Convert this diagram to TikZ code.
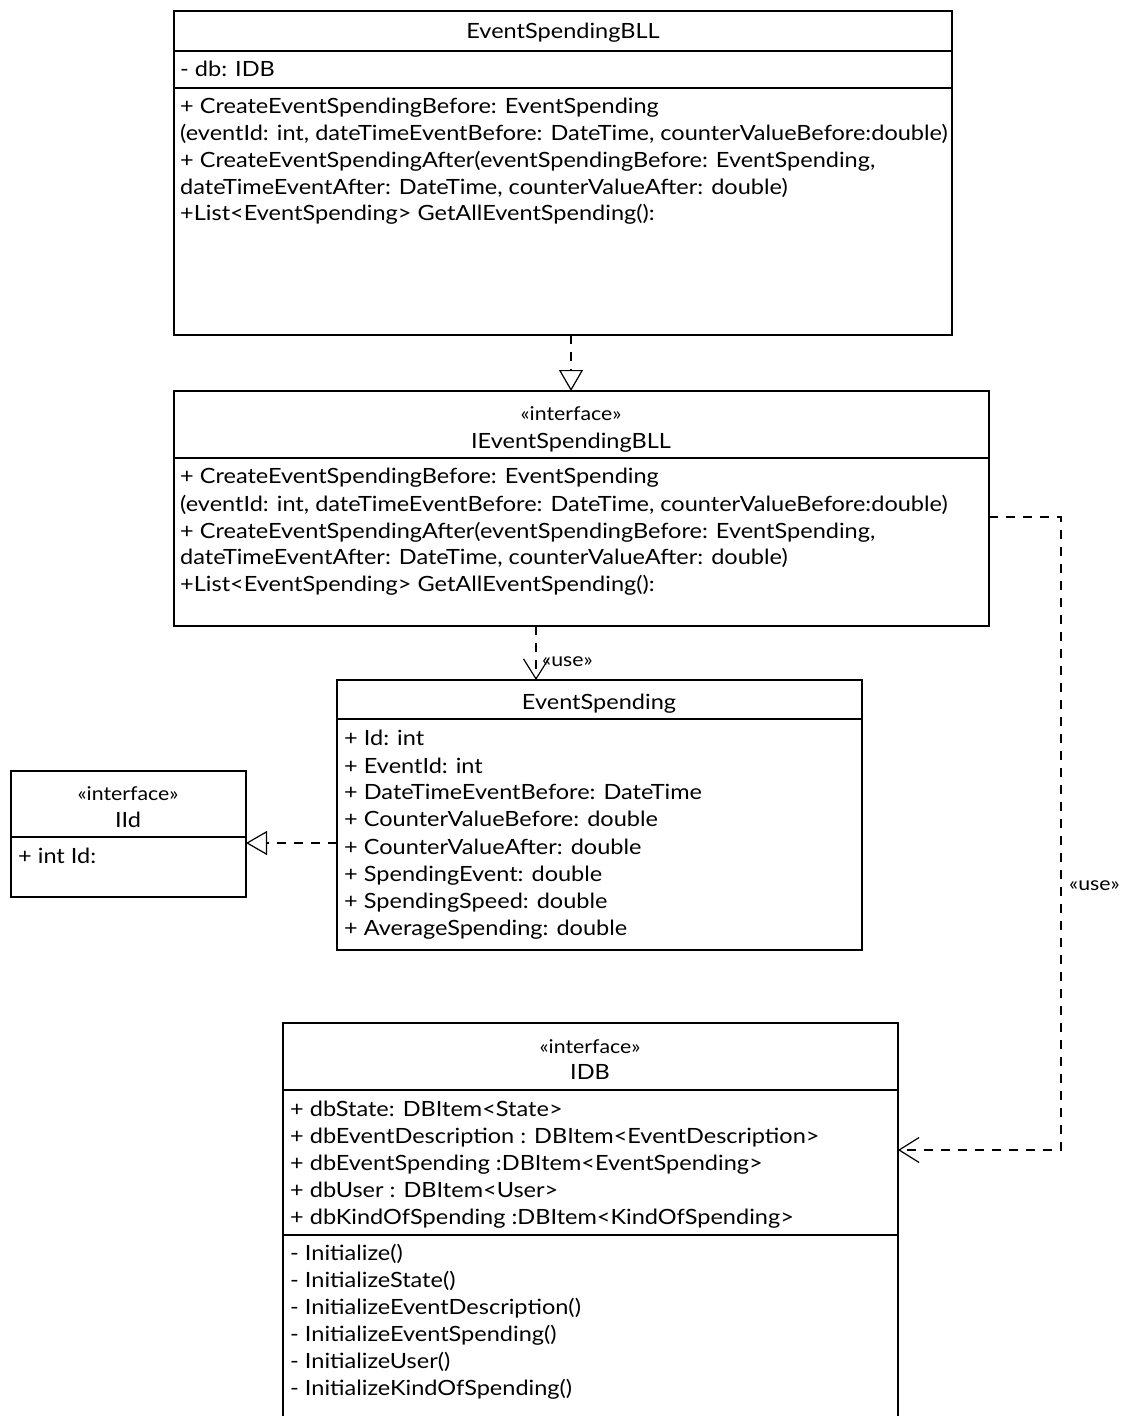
\documentclass[tikz,border=0pt]{standalone}
\usepackage{fontspec}
\setmainfont{Lato}[FakeStretch=1.12]
\usetikzlibrary{arrows.meta}
\begin{document}
\begin{tikzpicture}[x=1pt,y=-1pt,
  umlbox/.style={draw, line width=1.3pt, inner sep=0pt, outer sep=0pt, anchor=north west},
  sep/.style={line width=1.3pt},
  member/.style={anchor=west, inner sep=0pt, font=\fontsize{21}{24}\selectfont, text height=13pt, text depth=0pt},
  cname/.style={anchor=center, inner sep=0pt, font=\fontsize{21}{24}\selectfont, text height=13pt, text depth=0pt},
  stereo/.style={anchor=center, inner sep=0pt, font=\fontsize{19}{22}\selectfont, text height=11pt, text depth=0pt},
  dep/.style={line width=1.2pt, dash pattern=on 9pt off 8pt},
  realize/.style={dep, -{Triangle[open, length=21pt, width=24pt, line width=1.2pt]}},
  usage/.style={dep, -{Straight Barb[length=20pt, width=25pt, line width=1.2pt]}},
]
\fill[white] (0,0) rectangle (1126,1416);
\useasboundingbox (0,0) rectangle (1126,1416);

% ---- EventSpendingBLL ----
\node[umlbox, minimum width=778pt, minimum height=324pt] (bll) at (174,11) {};
\draw[sep] ([yshift=-40pt]bll.north west) -- ([yshift=-40pt]bll.north east);
\draw[sep] ([yshift=-77pt]bll.north west) -- ([yshift=-77pt]bll.north east);
\node[cname] (bllname) at (563,32) {EventSpendingBLL};
\node[member] (bllat1) at (180,70) {- db: IDB};
\node[member] (bllop1) at (180,107) {+ CreateEventSpendingBefore: EventSpending};
\node[member] (bllop2) at (180,134) {(eventId: int, dateTimeEventBefore: DateTime, counterValueBefore:double)};
\node[member] (bllop3) at (180,161) {+ CreateEventSpendingAfter(eventSpendingBefore: EventSpending,};
\node[member] (bllop4) at (180,188) {dateTimeEventAfter: DateTime, counterValueAfter: double)};
\node[member] (bllop5) at (180,214) {+List<EventSpending> GetAllEventSpending():};

% ---- IEventSpendingBLL ----
\node[umlbox, minimum width=815pt, minimum height=235pt] (ibll) at (174,391) {};
\draw[sep] ([yshift=-67pt]ibll.north west) -- ([yshift=-67pt]ibll.north east);
\node[stereo] (ibllst) at (571,415) {«interface»};
\node[cname] (ibllname) at (571,442) {IEventSpendingBLL};
\node[member] (ibllop1) at (180,477) {+ CreateEventSpendingBefore: EventSpending};
\node[member] (ibllop2) at (180,505) {(eventId: int, dateTimeEventBefore: DateTime, counterValueBefore:double)};
\node[member] (ibllop3) at (180,532) {+ CreateEventSpendingAfter(eventSpendingBefore: EventSpending,};
\node[member] (ibllop4) at (180,558) {dateTimeEventAfter: DateTime, counterValueAfter: double)};
\node[member] (ibllop5) at (180,585) {+List<EventSpending> GetAllEventSpending():};

% ---- EventSpending ----
\node[umlbox, minimum width=525pt, minimum height=270pt] (es) at (337,680) {};
\draw[sep] ([yshift=-39pt]es.north west) -- ([yshift=-39pt]es.north east);
\node[cname] (esname) at (599,703) {EventSpending};
\node[member] (esat1) at (344,739) {+ Id: int};
\node[member] (esat2) at (344,767) {+ EventId: int};
\node[member] (esat3) at (344,793) {+ DateTimeEventBefore: DateTime};
\node[member] (esat4) at (344,820) {+ CounterValueBefore: double};
\node[member] (esat5) at (344,848) {+ CounterValueAfter: double};
\node[member] (esat6) at (344,875) {+ SpendingEvent: double};
\node[member] (esat7) at (344,902) {+ SpendingSpeed: double};
\node[member] (esat8) at (344,929) {+ AverageSpending: double};

% ---- IId ----
\node[umlbox, minimum width=235pt, minimum height=126pt] (iid) at (11,771) {};
\draw[sep] ([yshift=-66pt]iid.north west) -- ([yshift=-66pt]iid.north east);
\node[stereo] (iidst) at (128,795) {«interface»};
\node[cname] (iidname) at (128,821) {IId};
\node[member] (iidat1) at (18,857) {+ int Id:};

% ---- IDB (runs past the lower edge) ----
\node[umlbox, minimum width=615pt, minimum height=420pt] (idb) at (283,1023) {};
\draw[sep] ([yshift=-67pt]idb.north west) -- ([yshift=-67pt]idb.north east);
\draw[sep] ([yshift=-212pt]idb.north west) -- ([yshift=-212pt]idb.north east);
\node[stereo] (idbst) at (590,1048) {«interface»};
\node[cname] (idbname) at (590,1073) {IDB};
\node[member] (idbat1) at (290,1110) {+ dbState: DBItem<State>};
\node[member] (idbat2) at (290,1137) {+ dbEventDescription : DBItem<EventDescription>};
\node[member] (idbat3) at (290,1164) {+ dbEventSpending :DBItem<EventSpending>};
\node[member] (idbat4) at (290,1191) {+ dbUser : DBItem<User>};
\node[member] (idbat5) at (290,1218) {+ dbKindOfSpending :DBItem<KindOfSpending>};
\node[member] (idbop1) at (290,1254) {- Initialize()};
\node[member] (idbop2) at (290,1281) {- InitializeState()};
\node[member] (idbop3) at (290,1308) {- InitializeEventDescription()};
\node[member] (idbop4) at (290,1335) {- InitializeEventSpending()};
\node[member] (idbop5) at (290,1362) {- InitializeUser()};
\node[member] (idbop6) at (290,1389) {- InitializeKindOfSpending()};

% ---- connectors ----
\coordinate (gx) at (571,0);
\draw[realize] (bll.south -| gx) -- (ibll.north -| gx);

\coordinate (ux) at (536,0);
\draw[usage] (ibll.south -| ux) -- (es.north -| ux);
\node[stereo, anchor=west] (use1) at (542,661) {«use»};

\coordinate (ry) at (0,843);
\draw[realize] (es.west |- ry) -- (iid.east |- ry);

\coordinate (ay) at (0,517);
\coordinate (by) at (0,1150);
\coordinate (cx) at (1061,0);
\draw[usage] (ibll.east |- ay) -| (cx |- by) -- (idb.east |- by);
\node[stereo, anchor=west] (use2) at (1069,885) {«use»};
\end{tikzpicture}
\end{document}
